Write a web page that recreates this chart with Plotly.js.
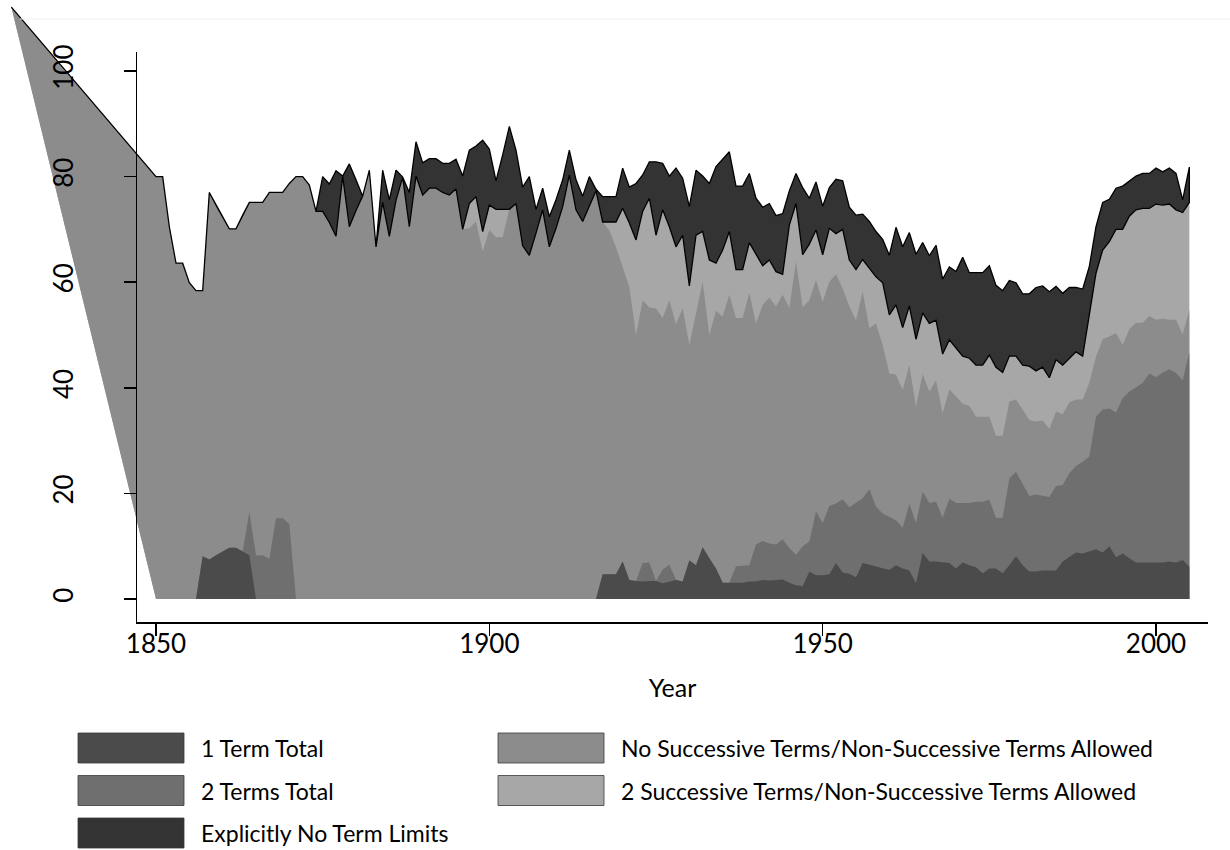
<!DOCTYPE html>
<html><head><meta charset="utf-8">
<script src="https://cdn.plot.ly/plotly-3.0.1.min.js"></script>
<style>html,body{margin:0;padding:0;background:#fff}#chart{width:1230px;height:850px}</style>
</head><body><div id="chart"></div>
<script>
// ---------------- DATA (percent of states, by year 1850..2005) ----------------
const startYear = 1850;

const oneTerm = [
  0,0,0,0,0,0,0,8.1,7.5,8.3,            // 1850s
  9.0,9.7,9.7,9.0,8.3,0,0,0,0,0,        // 1860s
  0,0,0,0,0,0,0,0,0,0,                  // 1870s
  0,0,0,0,0,0,0,0,0,0,                  // 1880s
  0,0,0,0,0,0,0,0,0,0,                  // 1890s
  0,0,0,0,0,0,0,0,0,0,                  // 1900s
  0,0,0,0,0,0,0,4.7,4.7,4.7,            // 1910s
  7.1,3.6,3.4,3.3,3.4,3.4,3.0,3.3,3.6,3.3,   // 1920s
  7.3,6.4,9.8,7.7,5.8,3.1,3.1,3.1,3.1,3.3,   // 1930s
  3.3,3.6,3.5,3.6,3.7,3.1,2.6,2.4,5.2,4.5,   // 1940s
  4.5,4.7,6.8,5.0,4.8,4.1,6.8,6.5,6.2,5.8,   // 1950s
  5.5,6.4,5.8,5.4,3.0,8.7,7.1,7.1,6.9,6.8,   // 1960s
  5.8,6.9,6.4,6.0,4.9,5.8,5.8,4.9,6.4,8.1,   // 1970s
  6.4,5.2,5.2,5.4,5.4,5.4,7.1,7.9,8.8,8.6,   // 1980s
  9.0,9.4,8.8,10.0,7.9,8.6,7.7,6.9,6.9,6.9,  // 1990s
  6.9,6.9,7.1,6.9,7.4,6.1                    // 2000s
];

const twoTerms = [
  0,0,0,0,0,0,0,0,0,0,
  0,0,0,0,8.2,8.3,8.3,7.6,15.3,15.3,
  14.2,0,0,0,0,0,0,0,0,0,
  0,0,0,0,0,0,0,0,0,0,
  0,0,0,0,0,0,0,0,0,0,
  0,0,0,0,0,0,0,0,0,0,
  0,0,0,0,0,0,0,0,0,0,
  0,0,0,3.5,3.5,0,2.6,3.2,0,0,
  0,0,0,0,0,0,0,3.1,3.2,3.1,
  7.0,7.4,7.0,6.7,7.6,6.5,5.8,7.6,5.7,12.1,
  9.9,12.9,11.3,13.9,12.6,14.2,12.3,14.3,11.3,10.4,
  10.0,8.5,7.7,12.6,11.4,11.6,11.1,11.3,8.5,12.2,
  12.4,11.3,11.8,12.4,13.5,13.0,9.6,10.5,16.4,16.0,
  15.3,14.3,14.6,14.2,13.9,16.0,14.5,15.9,16.4,17.4,
  18.0,25.1,27.1,26.1,27.4,29.4,31.6,33.2,34.0,35.8,
  35.1,36.0,36.4,35.9,34.0,40.6
];

const noSuccessive = [
  80,80,70.5,63.6,63.6,59.9,58.4,50.3,69.5,66.3,
  63.4,60.4,60.4,63.7,58.6,66.8,66.8,69.4,61.7,61.7,
  64.5,80,80,78.4,73.4,73.4,71.3,68.7,80.1,70.5,
  73.6,76.3,81.2,66.7,75.1,68.7,75.5,79.9,70.5,80.1,
  76.5,77.8,77.8,77.0,76.5,77.7,70.0,70.2,71.5,65.8,
  69.9,68.5,68.5,73.8,74.9,66.9,65.1,69.3,73.7,66.7,
  70.2,74.3,80.3,73.7,71.5,74.3,77.3,66.7,65.1,61.9,
  55.8,55.5,46.6,49.8,48.3,51.6,47.6,50.1,48.5,51.7,
  40.8,47.7,50.3,42.3,48.8,50.4,54.5,47.0,46.9,51.6,
  41.9,44.7,46.6,45.1,46.3,45.5,55.5,45.2,45.7,43.8,
  41.9,42.5,43.4,39.9,38.0,34.5,39.1,30.5,34.7,31.9,
  27.2,27.6,26.1,26.3,22.0,22.3,21.1,23.0,19.8,20.7,
  20.1,18.8,18.4,16.1,16.1,15.7,15.5,15.5,14.6,13.7,
  14.2,14.4,13.8,14.2,12.9,14.1,13.4,13.4,12.6,11.8,
  14.0,11.4,13.3,13.6,15.1,10.1,11.8,12.2,11.4,10.9,
  10.9,10.2,9.4,10.1,8.7,8.0
];

const twoSuccessive = [
  0,0,0,0,0,0,0,0,0,0,
  0,0,0,0,0,0,0,0,0,0,
  0,0,0,0,0,0,0,0,0,0,
  0,0,0,0,0,0,0,0,0,0,
  0,0,0,0,0,0,0,4.7,4.7,3.8,
  4.7,5.3,5.3,0,0,0,0,0,0,0,
  0,0,0,0,0,0,0,0,1.6,4.8,
  11.1,12.1,18.0,16.8,20.7,13.9,20.5,13.9,14.6,13.9,
  11.2,14.8,9.5,14.2,9.0,12.6,12.0,9.2,9.2,9.5,
  13.1,7.4,7.1,6.6,3.9,15.7,11.0,10.0,10.6,9.5,
  8.9,10.1,7.7,11.2,8.8,9.6,6.1,11.3,8.8,11.8,
  11.1,13.2,11.8,11.2,12.8,11.6,12.9,11.4,11.2,9.4,
  9.2,9.0,9.0,9.8,9.8,11.7,13.0,12.0,8.6,8.2,
  8.4,10.2,9.6,10.1,9.7,9.8,9.3,8.4,9.0,8.2,
  12.5,15.8,16.9,18.0,19.6,21.9,21.4,21.4,21.7,20.4,
  21.9,21.5,21.9,20.8,23.1,20.4
];

const noLimits = [
  0,0,0,0,0,0,0,0,0,0,
  0,0,0,0,0,0,0,0,0,0,
  0,0,0,0,0,6.6,7.3,12.4,0,11.9,
  5.8,0,0,0,6.1,6.9,5.7,0,6.5,6.5,
  6.1,5.6,5.6,5.5,6.0,5.6,10.1,10.1,9.6,17.3,
  10.6,5.4,10.3,15.7,10.1,11.1,14.9,4.5,4.1,5.7,
  5.4,5.1,4.7,5.7,4.8,5.7,0.3,4.8,4.8,4.8,
  7.6,6.8,10.7,6.9,6.9,13.9,8.8,9.6,14.9,10.8,
  15.0,12.3,10.5,14.5,18.3,17.2,15.1,15.8,15.8,13.1,
  10.6,11.1,10.7,10.6,11.5,6.5,5.7,12.7,8.7,9.1,
  9.2,7.7,10.3,9.2,10.0,10.3,8.6,8.9,8.6,8.2,
  11.3,14.7,15.3,13.9,16.1,13.3,12.8,14.2,14.2,13.8,
  14.5,18.7,16.2,17.5,17.5,16.9,15.5,15.5,14.3,13.9,
  13.5,13.7,15.8,15.4,16.3,13.9,13.6,13.4,12.2,12.7,
  9.5,8.8,9.0,8.0,7.8,8.2,6.7,6.4,6.6,6.6,
  6.8,6.3,6.8,6.9,2.4,6.7
];

// stray first observation of the original data (plotted by the source program
// ahead of 1850, producing the wedge to the left of the axis)
const strayYear = [1828.3];
const strayValue = [112.1];

const seriesNames = [
  "1 Term Total",
  "2 Terms Total",
  "Explicitly No Term Limits",
  "No Successive Terms/Non-Successive Terms Allowed",
  "2 Successive Terms/Non-Successive Terms Allowed"
];
const xTickVals = [1850, 1900, 1950, 2000];
const yTickVals = [0, 20, 40, 60, 80, 100];
const xTitle = "Year";

// ---------------- STYLE / GEOMETRY ----------------
const W = 1230, H = 850;
const PX1850 = 156, PX_PER_YEAR = 6.6667;   // horizontal scale
const PY0 = 599, PY_PER_UNIT = 5.28;         // vertical scale
const AX_L = 137, AX_R = 1208, AX_T = 52, AX_B = 622;
const colors = {
  oneTerm: "#4b4b4b",
  twoTerms: "#6f6f6f",
  noLimits: "#333333",
  noSucc: "#8c8c8c",
  twoSucc: "#a7a7a7"
};
const FONT = "Lato, 'Open Sans', sans-serif";

const yearAtPx = p => startYear + (p - PX1850) / PX_PER_YEAR;
const valAtPx = p => (PY0 - p) / PY_PER_UNIT;

// ---------------- BUILD ----------------
const years = oneTerm.map((_, i) => startYear + i);
const r1 = v => Math.round(v * 10) / 10;
const cum = (...arrs) => years.map((_, i) => r1(arrs.reduce((s, a) => s + a[i], 0)));
const c1 = cum(oneTerm);
const c2 = cum(oneTerm, twoTerms);
const c3 = cum(oneTerm, twoTerms, noSuccessive);
const c4 = cum(oneTerm, twoTerms, noSuccessive, twoSuccessive);
const c5 = cum(oneTerm, twoTerms, noSuccessive, twoSuccessive, noLimits);

function areaWithStray(c, color, name) {
  return {
    x: [years[0], strayYear[0]].concat(years),
    y: [0, strayValue[0]].concat(c),
    type: "scatter", mode: "lines", fill: "tozeroy",
    fillcolor: color, line: {width: 0, color: color},
    name: name, showlegend: false, hoverinfo: "skip"
  };
}
function area(c, color, name) {
  return {
    x: years, y: c, type: "scatter", mode: "lines", fill: "tozeroy",
    fillcolor: color, line: {width: 0, color: color},
    name: name, showlegend: false, hoverinfo: "skip"
  };
}
const rev = a => a.slice().reverse();
const band = {
  x: [strayYear[0]].concat(years, rev(years), [strayYear[0]]),
  y: [strayValue[0]].concat(c5, rev(c4), [strayValue[0]]),
  type: "scatter", mode: "lines", fill: "toself",
  fillcolor: colors.noLimits, line: {color: "#000000", width: 1.3},
  name: seriesNames[2], showlegend: false, hoverinfo: "skip"
};

const traces = [
  areaWithStray(c4, colors.twoSucc, seriesNames[4]),
  areaWithStray(c3, colors.noSucc, seriesNames[3]),
  area(c2, colors.twoTerms, seriesNames[1]),
  area(c1, colors.oneTerm, seriesNames[0]),
  band,
  {x: [], y: [], xaxis: "x2", yaxis: "y2", type: "scatter", mode: "markers",
   showlegend: false, hoverinfo: "skip"}
];

// legend (drawn as layout boxes + text)
const legendItems = [
  {name: seriesNames[0], color: colors.oneTerm, col: 0, row: 0},
  {name: seriesNames[1], color: colors.twoTerms, col: 0, row: 1},
  {name: seriesNames[2], color: colors.noLimits, col: 0, row: 2},
  {name: seriesNames[3], color: colors.noSucc, col: 1, row: 0},
  {name: seriesNames[4], color: colors.twoSucc, col: 1, row: 1}
];
const LEG_X = [78, 498], LEG_W = 106, LEG_Y0 = 733, LEG_DY = 42.5, LEG_H = 30;
const shapes = [];
const annotations = [];
legendItems.forEach(it => {
  const x0 = LEG_X[it.col], y0 = LEG_Y0 + it.row * LEG_DY;
  shapes.push({type: "rect", xref: "paper", yref: "paper",
    x0: x0 / W, x1: (x0 + LEG_W) / W, y0: 1 - y0 / H, y1: 1 - (y0 + LEG_H) / H,
    fillcolor: it.color, line: {color: "#3a3a3a", width: 0.8}, layer: "above"});
  annotations.push({xref: "paper", yref: "paper", x: (x0 + LEG_W + 15) / W,
    y: 1 - (y0 + LEG_H / 2) / H, xanchor: "left", yanchor: "middle",
    text: it.name, showarrow: false, font: {family: FONT, size: 23, color: "#000"}});
});
// faint outer frame line at top
shapes.push({type: "line", xref: "paper", yref: "paper", x0: 20 / W, x1: 1, y0: 1 - 19 / H, y1: 1 - 19 / H,
  line: {color: "#eeeeee", width: 1}});

const layout = {
  width: W, height: H,
  margin: {l: 0, r: 0, t: 0, b: 0, pad: 0},
  paper_bgcolor: "#ffffff", plot_bgcolor: "rgba(0,0,0,0)",
  showlegend: false,
  xaxis: {domain: [0, 1], range: [yearAtPx(0), yearAtPx(W)], visible: false, fixedrange: true},
  yaxis: {domain: [0, 1], range: [valAtPx(H), valAtPx(0)], visible: false, fixedrange: true},
  xaxis2: {
    domain: [AX_L / W, AX_R / W], anchor: "y2",
    range: [yearAtPx(AX_L), yearAtPx(AX_R)],
    showline: true, linecolor: "#000", linewidth: 1.5, mirror: false,
    ticks: "outside", ticklen: 12, tickwidth: 1.5, tickcolor: "#000",
    tickmode: "array", tickvals: xTickVals, ticktext: xTickVals.map(String),
    ticklabelstandoff: -14,
    tickfont: {family: FONT, size: 26, color: "#000"},
    showgrid: false, zeroline: false, fixedrange: true,
    title: {text: xTitle, font: {family: FONT, size: 25, color: "#000"}, standoff: 22}
  },
  yaxis2: {
    domain: [1 - AX_B / H, 1 - AX_T / H], anchor: "x2",
    range: [valAtPx(AX_B), valAtPx(AX_T)],
    showline: true, linecolor: "#000", linewidth: 1.5,
    ticks: "outside", ticklen: 12, tickwidth: 1.5, tickcolor: "#000",
    tickmode: "array", tickvals: yTickVals, ticktext: yTickVals.map(String),
    tickangle: -90, ticklabelstandoff: 40,
    tickfont: {family: FONT, size: 26, color: "#000"},
    showgrid: false, zeroline: false, fixedrange: true
  },
  shapes: shapes,
  annotations: annotations
};

Plotly.newPlot("chart", traces, layout, {staticPlot: true, displayModeBar: false});
</script>
</body></html>
